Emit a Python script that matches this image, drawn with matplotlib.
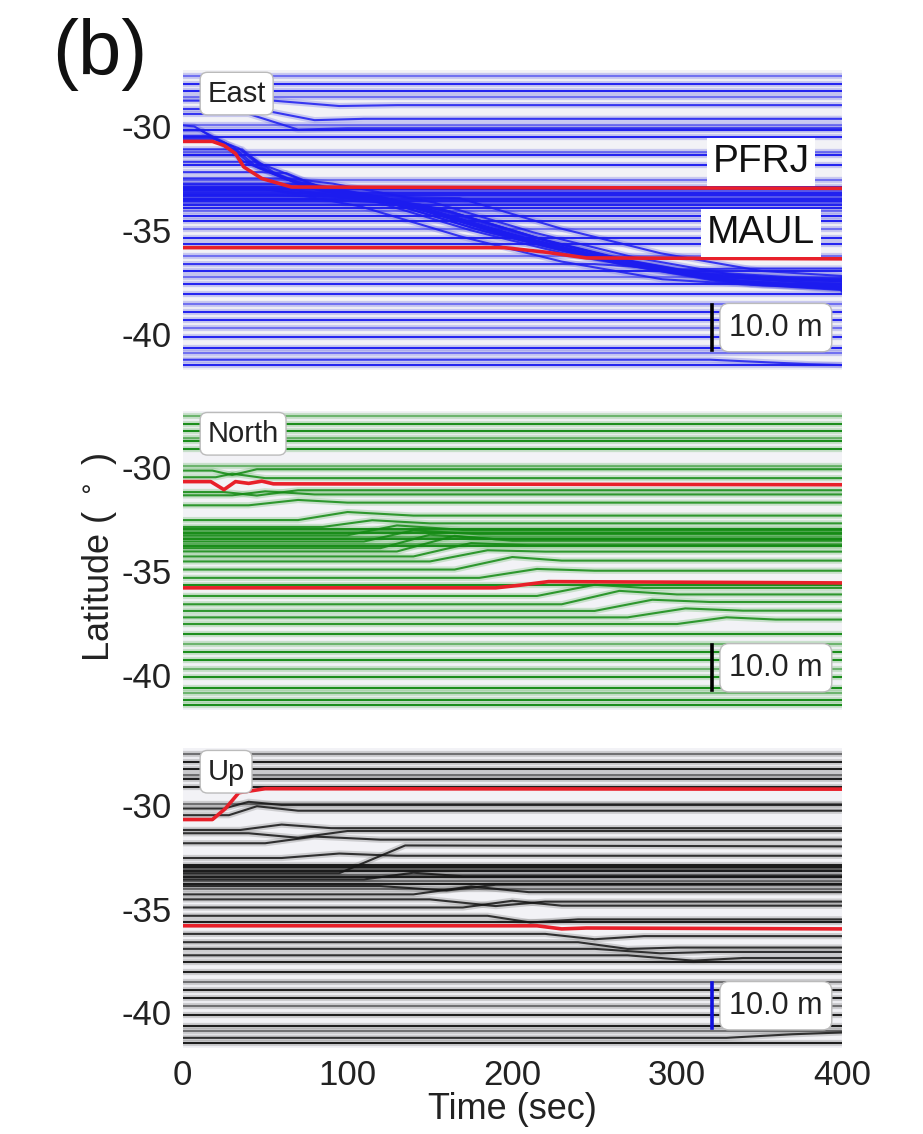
import numpy as np
import matplotlib.pyplot as plt

plt.rcParams['font.family'] = ['Liberation Sans', 'DejaVu Sans']
plt.rcParams['axes.unicode_minus'] = False

# station latitudes (deg)
STA_LAT = [-27.57, -27.97, -28.29, -28.60, -28.76, -29.16, -29.95, -30.19, -30.51,
           -31.22, -31.38, -31.86, -32.57, -32.90, -33.00, -33.10, -33.20, -33.30,
           -33.40, -33.50, -33.60, -33.70, -33.80, -33.92, -34.08, -34.32, -34.56,
           -34.95, -35.35, -35.67, -36.22, -36.62, -36.94, -37.25, -37.57, -38.05,
           -38.52, -38.92, -39.32, -39.71, -40.11, -40.67, -40.90, -41.22, -41.46]
PFRJ_LAT = -30.72
MAUL_LAT = -35.83

# 10 m of displacement spans this many degrees on the plot
SCALE_M = 10.0
SCALE_DEG = 2.15
DEG_PER_M = SCALE_DEG / SCALE_M

# highlighted stations: (time s, displacement m) per component
PFRJ_T_E = [0, 18, 25, 32, 37, 48, 66, 400]
PFRJ_D_E = [0, 0, -0.9, -2.7, -5.7, -8.3, -10.2, -10.5]
MAUL_T_E = [0, 195, 220, 245, 400]
MAUL_D_E = [0, 0, -1.0, -2.3, -2.5]
PFRJ_T_N = [0, 17, 25, 32, 40, 48, 55, 400]
PFRJ_D_N = [0, 0, -1.8, 0, -0.4, 0.1, -0.5, -0.7]
MAUL_T_N = [0, 190, 205, 222, 400]
MAUL_D_N = [0, 0, 0.6, 1.4, 1.1]
PFRJ_T_U = [0, 18, 26, 34, 50, 400]
PFRJ_D_U = [0, 0, 2.5, 6.0, 6.9, 6.8]
MAUL_T_U = [0, 215, 230, 245, 400]
MAUL_D_U = [0, 0, -0.7, -0.5, -0.7]

# east: the sweep of large westward motion (time s, latitude deg)
BAND_T = [0, 15, 30, 45, 71, 132, 193, 254, 315, 376, 400]
BAND_LAT = [-30.2, -30.3, -31.0, -32.0, -32.85, -33.75, -35.2, -36.4, -37.25, -37.55, -37.6]
# stations riding the sweep: (station lat, time shift s, lat shift deg)
BAND_E = [(-29.95, -8, 0.30), (-30.19, -4, 0.20), (-30.45, 0, 0.05), (-30.60, 4, -0.05),
          (-31.10, 6, -0.10), (-31.38, 10, -0.20), (-31.70, 14, -0.15), (-32.20, 18, -0.25),
          (-32.50, 20, 0.10), (-32.80, 24, -0.20), (-33.00, -10, 0.15), (-33.10, 28, -0.30),
          (-33.30, -14, 0.25), (-33.50, 12, 0.00), (-32.75, 30, -0.35), (-33.05, -18, 0.20),
          (-33.35, 36, 0.30), (-32.95, -24, -0.10)]

# other moving traces: (station lat, t0, t1, d1 m, t2, d2 m)
MOVE_E = [(-29.16, 45, 80, -2.5, 110, -2.2), (-28.76, 55, 95, -1.2, 130, -1.0),
          (-29.40, 40, 70, -3.5, 100, -3.2), (-41.22, 320, 380, -1.0, 400, -1.2),
          (-36.62, 250, 300, -1.2, 340, -1.0)]
MOVE_N = [(-30.19, 18, 30, -1.0, 45, 0.3), (-30.51, 20, 30, 0.8, 50, -0.2),
          (-31.22, 25, 45, -0.8, 70, 0.4), (-31.38, 30, 50, 0.9, 80, 0.2),
          (-31.86, 40, 70, 1.2, 100, 0.6), (-32.57, 70, 100, 1.8, 140, 1.0),
          (-32.90, 85, 115, 1.5, 150, 0.8), (-33.30, 100, 130, 2.2, 170, 1.2),
          (-33.60, 110, 140, 2.5, 180, 1.6), (-33.92, 120, 150, 3.0, 190, 2.0),
          (-34.08, 130, 165, 3.5, 200, 2.4), (-34.32, 140, 175, 3.0, 210, 2.5),
          (-34.56, 150, 185, 2.5, 220, 2.2), (-34.95, 165, 200, 2.8, 230, 2.0),
          (-35.35, 180, 215, 2.0, 250, 1.6), (-36.22, 215, 250, 2.5, 280, 1.8),
          (-36.62, 230, 265, 3.0, 300, 2.2), (-36.94, 250, 285, 2.5, 320, 2.0),
          (-37.25, 270, 305, 2.0, 340, 1.5), (-37.57, 300, 330, 1.5, 360, 1.0)]
MOVE_U = [(-30.19, 25, 40, 1.5, 60, 0.8), (-30.51, 28, 45, 2.0, 70, 1.0),
          (-31.22, 35, 60, 1.2, 90, 0.4), (-31.38, 40, 70, -1.0, 100, 0.5),
          (-31.86, 50, 80, 1.5, 120, 0.8), (-32.57, 60, 95, 1.0, 130, 0.5),
          (-33.30, 95, 135, 6.2, 400, 6.0), (-33.60, 110, 140, 1.5, 170, 0.7),
          (-33.92, 120, 160, -1.0, 190, 0.3), (-34.32, 140, 175, 1.8, 210, 0.5),
          (-34.56, 150, 190, -1.5, 220, -0.5), (-34.95, 170, 200, 1.5, 230, 0.4),
          (-35.35, 185, 211, -1.5, 240, -0.8), (-36.22, 220, 250, -1.2, 280, -0.5),
          (-36.62, 240, 270, -1.5, 300, -1.2), (-36.94, 250, 290, -1.0, 320, -0.7),
          (-37.25, 270, 310, -1.2, 340, -0.6), (-41.22, 330, 370, 0.8, 400, 1.2)]

T_END = 400
RED = '#e8202a'


def trace(ax, t, y, color, pale, core_alpha=0.85):
    ax.plot(t, y, color=pale, lw=4.5, alpha=0.35, solid_capstyle='butt', zorder=1)
    ax.plot(t, y, color=color, lw=1.5, alpha=core_alpha, zorder=2)


def move_knots(m):
    lat, t0, t1, d1, t2, d2 = m
    t = [0, t0, t1, t2, T_END]
    y = [lat, lat, lat + d1 * DEG_PER_M, lat + d2 * DEG_PER_M, lat + d2 * DEG_PER_M]
    return t, y


def band_knots(s, dt, dl):
    t = np.array(BAND_T, float) + dt
    y = np.array(BAND_LAT) + dl
    i = int(np.nonzero(y < s)[0][0])
    tx = [0, max(t[i - 1], 0) if i > 0 else 0] + list(t[i:]) + [T_END]
    ty = [s, s] + list(y[i:]) + [y[-1]]
    return tx, ty


def panel(ax, comp, color, pale, moves, pfrj, maul, bar_color, band=None):
    ax.set_facecolor('#f2f2f6')
    moving = {m[0] for m in moves}
    for k, lat in enumerate(STA_LAT):
        if lat in moving:
            continue
        trace(ax, [0, T_END], [lat, lat], color, pale, 0.95 if k % 3 else 0.5)
    for m in moves:
        t, y = move_knots(m)
        trace(ax, t, y, color, pale)
    if band:
        for b in band:
            t, y = band_knots(*b)
            trace(ax, t, y, color, pale)
    for base, (tt, dd) in ((PFRJ_LAT, pfrj), (MAUL_LAT, maul)):
        ax.plot(tt, [base + d * DEG_PER_M for d in dd], color=RED, lw=2.6, zorder=4)

    ax.text(15, -28.42, comp, fontsize=21, ha='left', va='center', color='#222222', zorder=6,
            bbox=dict(boxstyle='round,pad=0.25', fc='white', ec='#bbbbbb', lw=1))
    # scale bar
    ax.plot([321, 321], [-38.6, -38.6 - SCALE_DEG], color=bar_color, lw=2.6, zorder=6)
    ax.text(360, -38.6 - SCALE_DEG / 2, '%.1f m' % SCALE_M, fontsize=22, ha='center',
            va='center', color='#222222', zorder=6,
            bbox=dict(boxstyle='round,pad=0.3', fc='white', ec='#bbbbbb', lw=1))

    ax.set_xlim(0, T_END)
    ax.set_ylim(-41.7, -27.3)
    ax.set_yticks([-30, -35, -40])
    ax.set_yticklabels(['-30', '-35', '-40'])
    ax.tick_params(length=0, labelsize=25, pad=8, labelcolor='#222222')
    for s in ax.spines.values():
        s.set_visible(False)


fig = plt.figure(figsize=(9.23, 11.34), dpi=100)
ax_e = fig.add_axes([0.198, 0.674, 0.714, 0.264])
ax_n = fig.add_axes([0.198, 0.374, 0.714, 0.264])
ax_u = fig.add_axes([0.198, 0.076, 0.714, 0.264])

panel(ax_e, 'East', '#1c1cf0', '#7c7ce6', MOVE_E, (PFRJ_T_E, PFRJ_D_E),
      (MAUL_T_E, MAUL_D_E), 'black', BAND_E)
panel(ax_n, 'North', '#138a13', '#7cc07c', MOVE_N, (PFRJ_T_N, PFRJ_D_N),
      (MAUL_T_N, MAUL_D_N), 'black')
panel(ax_u, 'Up', '#151515', '#8a8a8a', MOVE_U, (PFRJ_T_U, PFRJ_D_U),
      (MAUL_T_U, MAUL_D_U), '#1010e0')

for name, lat in (('PFRJ', -31.71), ('MAUL', -35.12)):
    ax_e.text(351, lat, name, fontsize=28, ha='center', va='center', color='#111111',
              zorder=6, bbox=dict(boxstyle='square,pad=0.15', fc='white', ec='none'))

ax_e.set_xticks([])
ax_n.set_xticks([])
ax_u.set_xticks([0, 100, 200, 300, 400])
ax_u.set_xlabel('Time (sec)', fontsize=26, labelpad=0, color='#222222')

fig.text(0.108, 0.509, 'Latitude ( $^\\circ$ )', rotation=90, fontsize=26,
         ha='center', va='center', color='#222222')
fig.text(0.108, 0.952, '(b)', fontsize=56, ha='center', va='center', color='#111111')

fig.savefig('out.png', dpi=100, facecolor='white')
